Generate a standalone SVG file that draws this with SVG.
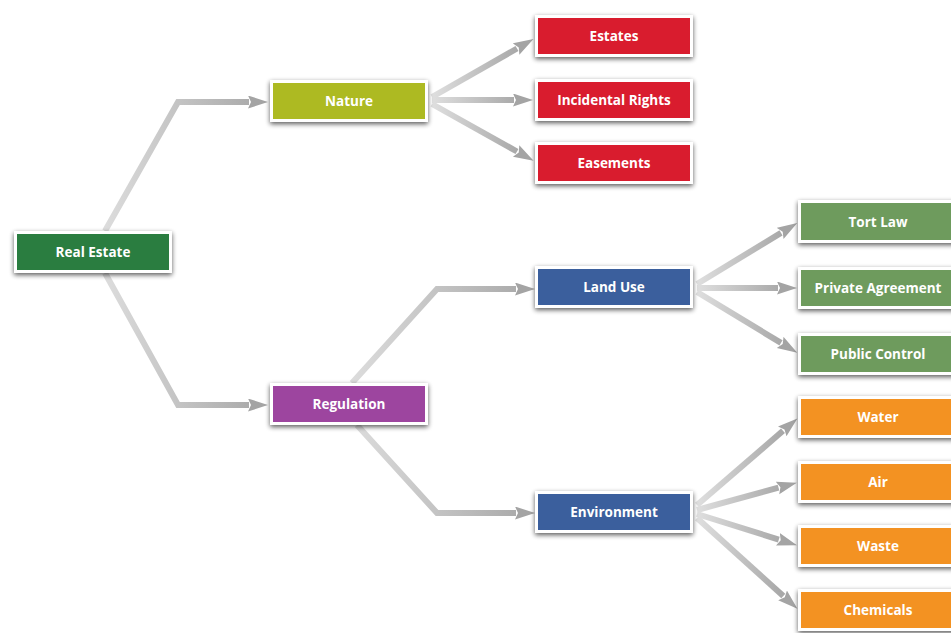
<svg xmlns="http://www.w3.org/2000/svg" width="951" height="633" viewBox="0 0 951 633">
<defs>
<style>
.box{stroke:#ffffff;stroke-width:3;filter:url(#sh)}
.lbl{font-family:"Open Sans","Liberation Sans",sans-serif;font-weight:700;font-size:13.5px;fill:#ffffff;text-anchor:middle;dominant-baseline:central}
.c{fill:none;stroke-width:6;stroke-linejoin:miter}
.g1{stroke:url(#gA)}
.g2{stroke:url(#gB)}
.g3{stroke:url(#gC)}
.g4{stroke:url(#gD)}
</style>
<filter id="sh" x="-20%" y="-40%" width="140%" height="180%">
<feGaussianBlur in="SourceAlpha" stdDeviation="2.5"/>
<feOffset dx="0" dy="2" result="b"/>
<feComponentTransfer><feFuncA type="linear" slope="0.65"/></feComponentTransfer>
<feMerge><feMergeNode/><feMergeNode in="SourceGraphic"/></feMerge>
</filter>
<linearGradient id="gA" gradientUnits="userSpaceOnUse" x1="105" y1="0" x2="250" y2="0"><stop offset="0" stop-color="#dcdcdc"/><stop offset="1" stop-color="#acacac"/></linearGradient>
<linearGradient id="gB" gradientUnits="userSpaceOnUse" x1="430" y1="0" x2="518" y2="0"><stop offset="0" stop-color="#e0e0e0"/><stop offset="1" stop-color="#a8a8a8"/></linearGradient>
<linearGradient id="gC" gradientUnits="userSpaceOnUse" x1="352" y1="0" x2="517" y2="0"><stop offset="0" stop-color="#dcdcdc"/><stop offset="1" stop-color="#acacac"/></linearGradient>
<linearGradient id="gD" gradientUnits="userSpaceOnUse" x1="695" y1="0" x2="782" y2="0"><stop offset="0" stop-color="#e0e0e0"/><stop offset="1" stop-color="#a8a8a8"/></linearGradient>
<marker id="ah" markerUnits="userSpaceOnUse" markerWidth="22" markerHeight="14" refX="1" refY="6.5" orient="auto">
<path d="M0,0 L20,6.5 L0,13 L3,6.5 Z" fill="#a4a4a4"/>
</marker>
</defs>
<rect width="951" height="633" fill="#ffffff"/>

<g id="connectors">
<path class="c g1" d="M105,231 L178,102 L249,102" marker-end="url(#ah)"/>
<path class="c g1" d="M105,273 L178,405 L249,405" marker-end="url(#ah)"/>
<path class="c g2" d="M432,97 L517,48.5" marker-end="url(#ah)"/>
<path class="c g2" d="M432,100 L514,100" marker-end="url(#ah)"/>
<path class="c g2" d="M432,104 L517,151.5" marker-end="url(#ah)"/>
<path class="c g3" d="M352,383 L437,289 L516,289" marker-end="url(#ah)"/>
<path class="c g3" d="M357,425 L437,513 L516,513" marker-end="url(#ah)"/>
<path class="c g4" d="M697,284 L781,232.9" marker-end="url(#ah)"/>
<path class="c g4" d="M697,288 L778,288" marker-end="url(#ah)"/>
<path class="c g4" d="M697,292 L781,342.9" marker-end="url(#ah)"/>
<path class="c g4" d="M697,505 L783,430.8" marker-end="url(#ah)"/>
<path class="c g4" d="M697,510 L778.5,487.7" marker-end="url(#ah)"/>
<path class="c g4" d="M697,514 L778.8,539.6" marker-end="url(#ah)"/>
<path class="c g4" d="M697,518 L783.3,596" marker-end="url(#ah)"/>
</g>

<g id="real-estate"><rect class="box" x="15.5" y="232.5" width="155" height="39" fill="#2a7d3f"/><text class="lbl" x="93" y="252">Real Estate</text></g>
<g id="nature"><rect class="box" x="271.5" y="81.5" width="155" height="39" fill="#adba24"/><text class="lbl" x="349" y="101">Nature</text></g>
<g id="regulation"><rect class="box" x="271.5" y="384.5" width="155" height="39" fill="#9d459f"/><text class="lbl" x="349" y="404">Regulation</text></g>

<g id="estates"><rect class="box" x="536.5" y="16.5" width="155" height="39" fill="#d91f2d"/><text class="lbl" x="614" y="36">Estates</text></g>
<g id="incidental-rights"><rect class="box" x="536.5" y="80.5" width="155" height="39" fill="#d91f2d"/><text class="lbl" x="614" y="100">Incidental Rights</text></g>
<g id="easements"><rect class="box" x="536.5" y="143.5" width="155" height="39" fill="#d91f2d"/><text class="lbl" x="614" y="163">Easements</text></g>

<g id="land-use"><rect class="box" x="536.5" y="267.5" width="155" height="39" fill="#3b5f9d"/><text class="lbl" x="614" y="287">Land Use</text></g>
<g id="environment"><rect class="box" x="536.5" y="492.5" width="155" height="39" fill="#3b5f9d"/><text class="lbl" x="614" y="512">Environment</text></g>

<g id="tort-law"><rect class="box" x="799.5" y="201.5" width="158" height="40" fill="#6e9b5d"/><text class="lbl" x="878" y="222">Tort Law</text></g>
<g id="private-agreement"><rect class="box" x="799.5" y="268.5" width="158" height="39" fill="#6e9b5d"/><text class="lbl" x="878" y="288">Private Agreement</text></g>
<g id="public-control"><rect class="box" x="799.5" y="334.5" width="158" height="39" fill="#6e9b5d"/><text class="lbl" x="878" y="354">Public Control</text></g>

<g id="water"><rect class="box" x="799.5" y="397.5" width="158" height="39" fill="#f39224"/><text class="lbl" x="878" y="417">Water</text></g>
<g id="air"><rect class="box" x="799.5" y="462.5" width="158" height="39" fill="#f39224"/><text class="lbl" x="878" y="482">Air</text></g>
<g id="waste"><rect class="box" x="799.5" y="526.5" width="158" height="39" fill="#f39224"/><text class="lbl" x="878" y="546">Waste</text></g>
<g id="chemicals"><rect class="box" x="799.5" y="590.5" width="158" height="39" fill="#f39224"/><text class="lbl" x="878" y="610">Chemicals</text></g>
</svg>
